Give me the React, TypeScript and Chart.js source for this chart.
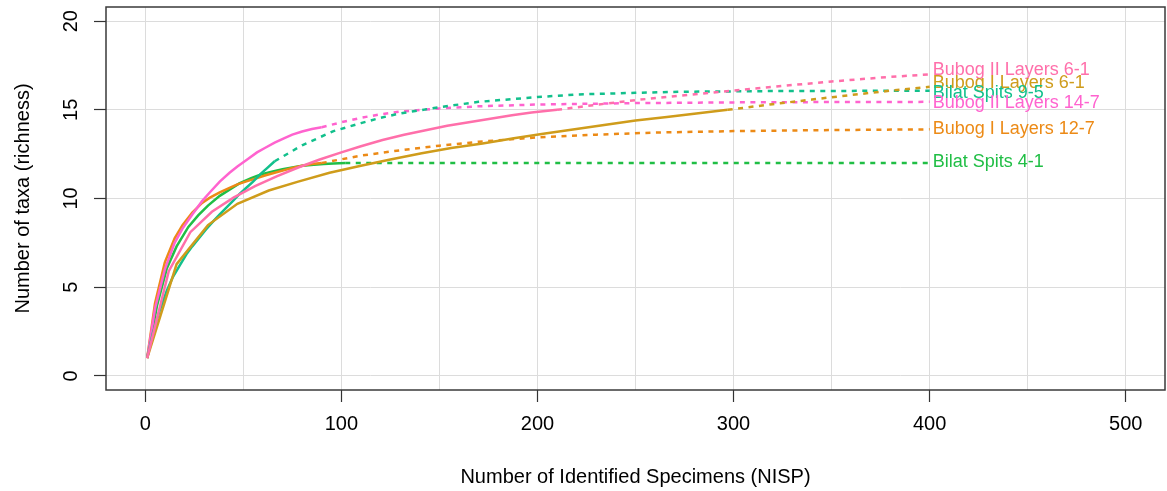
import React, { useEffect, useRef } from "react";
import { Chart, registerables } from "chart.js";

Chart.register(...registerables);

// ---- axis ticks ----
const xTickValues = [0, 50, 100, 150, 200, 250, 300, 350, 400, 450, 500];
const yTickValues = [0, 5, 10, 15, 20];

// ---- series names / colours ----
const seriesNames = [
  "Bubog II Layers 6-1",
  "Bubog I Layers 6-1",
  "Bilat Spits 9-5",
  "Bubog II Layers 14-7",
  "Bubog I Layers 12-7",
  "Bilat Spits 4-1",
];
const seriesColors = ["#FF6FAA", "#CF9C1B", "#12C08C", "#FF63CF", "#EC8A16", "#20BE45"];

// label anchor values (y at x = 400)
const labelValues = [17.24, 16.52, 15.92, 15.38, 13.92, 12.06];
const labelAtX = 400;

// ---- Bubog II Layers 6-1 ----
const bubogII61InterpX = [1, 12, 23, 34, 45, 56, 67, 78, 89, 100, 110, 121, 132, 143, 154, 165, 176, 187, 197, 210];
const bubogII61InterpY = [1, 5.9, 8.1, 9.25, 10.05, 10.7, 11.25, 11.75, 12.2, 12.6, 12.95, 13.3, 13.6, 13.85, 14.1, 14.3, 14.5, 14.7, 14.85, 15.0];
const bubogII61ExtrapX = [210, 231, 250, 275, 300, 325, 350, 375, 400];
const bubogII61ExtrapY = [15.0, 15.3, 15.55, 15.82, 16.08, 16.35, 16.6, 16.82, 17.0];

// ---- Bubog I Layers 6-1 ----
const bubogI61InterpX = [1, 16, 32, 47, 63, 78, 94, 110, 125, 141, 156, 172, 188, 203, 219, 234, 250, 266, 281, 297];
const bubogI61InterpY = [1, 6.3, 8.5, 9.7, 10.45, 10.95, 11.45, 11.85, 12.2, 12.55, 12.85, 13.1, 13.4, 13.65, 13.9, 14.15, 14.4, 14.6, 14.8, 15.0];
const bubogI61ExtrapX = [297, 320, 340, 360, 380, 400];
const bubogI61ExtrapY = [15.0, 15.32, 15.58, 15.84, 16.08, 16.3];

// ---- Bilat Spits 9-5 ----
const bilat95InterpX = [1, 4, 7, 11, 14, 18, 21, 24, 28, 31, 35, 38, 42, 45, 48, 52, 55, 59, 62, 66];
const bilat95InterpY = [1, 2.45, 3.55, 4.8, 5.55, 6.3, 6.85, 7.3, 7.85, 8.25, 8.75, 9.1, 9.55, 9.9, 10.25, 10.65, 10.95, 11.4, 11.7, 12.1];
const bilat95ExtrapX = [66, 80, 96, 110, 120, 130, 150, 170, 200, 221, 250, 272, 323, 400];
const bilat95ExtrapY = [12.1, 13.0, 13.8, 14.25, 14.55, 14.8, 15.15, 15.45, 15.72, 15.87, 15.96, 16.02, 16.06, 16.08];

// ---- Bubog II Layers 14-7 ----
const bubogII147InterpX = [1, 5, 10, 15, 19, 24, 29, 33, 38, 43, 47, 52, 57, 61, 66, 71, 75, 80, 85, 90];
const bubogII147InterpY = [1, 3.8, 6.0, 7.5, 8.3, 9.1, 9.85, 10.35, 10.95, 11.45, 11.8, 12.2, 12.6, 12.85, 13.15, 13.4, 13.6, 13.78, 13.92, 14.02];
const bubogII147ExtrapX = [90, 100, 110, 120, 130, 150, 170, 200, 250, 300, 350, 400];
const bubogII147ExtrapY = [14.02, 14.3, 14.55, 14.75, 14.9, 15.08, 15.2, 15.3, 15.38, 15.42, 15.44, 15.45];

// ---- Bubog I Layers 12-7 ----
const bubogI127InterpX = [1, 5, 10, 15, 19, 24, 29, 33, 38, 43, 47, 52, 57, 61, 66, 71, 75, 80, 85, 90];
const bubogI127InterpY = [1, 4.1, 6.4, 7.75, 8.5, 9.2, 9.75, 10.05, 10.35, 10.6, 10.8, 10.98, 11.15, 11.3, 11.45, 11.6, 11.72, 11.85, 11.94, 12.0];
const bubogI127ExtrapX = [90, 110, 130, 150, 170, 200, 230, 260, 300, 350, 400];
const bubogI127ExtrapY = [12.0, 12.42, 12.72, 12.98, 13.2, 13.45, 13.6, 13.72, 13.8, 13.86, 13.9];

// ---- Bilat Spits 4-1 ----
const bilat41InterpX = [1, 6, 11, 16, 22, 27, 32, 38, 43, 48, 54, 59, 64, 70, 75, 80, 86, 91, 96, 102];
const bilat41InterpY = [1, 3.95, 6.05, 7.3, 8.4, 9.05, 9.6, 10.15, 10.5, 10.85, 11.15, 11.35, 11.5, 11.65, 11.75, 11.85, 11.9, 11.95, 11.98, 12.0];
const bilat41ExtrapX = [102, 150, 200, 250, 300, 350, 400];
const bilat41ExtrapY = [12, 12, 12, 12, 12, 12, 12];

const interpX = [bubogII61InterpX, bubogI61InterpX, bilat95InterpX, bubogII147InterpX, bubogI127InterpX, bilat41InterpX];
const interpY = [bubogII61InterpY, bubogI61InterpY, bilat95InterpY, bubogII147InterpY, bubogI127InterpY, bilat41InterpY];
const extrapX = [bubogII61ExtrapX, bubogI61ExtrapX, bilat95ExtrapX, bubogII147ExtrapX, bubogI127ExtrapX, bilat41ExtrapX];
const extrapY = [bubogII61ExtrapY, bubogI61ExtrapY, bilat95ExtrapY, bubogII147ExtrapY, bubogI127ExtrapY, bilat41ExtrapY];

const FONT = "'Liberation Sans', Arial, Helvetica, sans-serif";

const zip = (xs: number[], ys: number[]) => xs.map((x, i) => ({ x, y: ys[i] }));

const boxPlugin = {
  id: "boxPlugin",
  afterDraw(chart: any) {
    const { ctx, chartArea } = chart;
    ctx.save();
    ctx.strokeStyle = "#3a3a3a";
    ctx.lineWidth = 1.5;
    ctx.strokeRect(chartArea.left, chartArea.top, chartArea.right - chartArea.left, chartArea.bottom - chartArea.top);
    ctx.restore();
  },
};

const labelPlugin = {
  id: "labelPlugin",
  afterDatasetsDraw(chart: any) {
    const { ctx } = chart;
    const xs = chart.scales.x;
    const ys = chart.scales.y;
    ctx.save();
    ctx.font = `18px ${FONT}`;
    ctx.textAlign = "left";
    ctx.textBaseline = "middle";
    seriesNames.forEach((name, i) => {
      ctx.fillStyle = seriesColors[i];
      ctx.fillText(name, xs.getPixelForValue(labelAtX) + 3, ys.getPixelForValue(labelValues[i]));
    });
    ctx.restore();
  },
};

export default function App() {
  const ref = useRef<HTMLCanvasElement | null>(null);

  useEffect(() => {
    if (!ref.current) return;
    const datasets: any[] = [];
    seriesNames.forEach((name, i) => {
      datasets.push({
        label: name + " (interpolated)",
        data: zip(interpX[i], interpY[i]),
        borderColor: seriesColors[i],
        borderWidth: 2.5,
        pointRadius: 0,
        tension: 0,
        fill: false,
      });
      datasets.push({
        label: name + " (extrapolated)",
        data: zip(extrapX[i], extrapY[i]),
        borderColor: seriesColors[i],
        borderWidth: 2.5,
        borderDash: [5, 5.5],
        pointRadius: 0,
        tension: 0,
        fill: false,
      });
    });

    const chart = new Chart(ref.current, {
      type: "line",
      data: { datasets },
      options: {
        animation: false,
        responsive: false,
        events: [],
        layout: { padding: { top: 7, right: 2, left: 0, bottom: 0 } },
        plugins: {
          legend: { display: false },
          tooltip: { enabled: false },
        },
        scales: {
          x: {
            type: "linear",
            min: -20,
            max: 520,
            afterBuildTicks: (scale: any) => {
              scale.ticks = xTickValues.map((v) => ({ value: v }));
            },
            afterFit: (scale: any) => {
              scale.height = 101;
              scale.paddingLeft = 0;
              scale.paddingRight = 0;
            },
            border: { display: false },
            grid: {
              color: "#dcdcdc",
              lineWidth: 1,
              drawTicks: true,
              tickLength: 12,
              tickWidth: 1.2,
              tickColor: (c: any) => (c.tick && c.tick.value % 100 === 0 ? "#333333" : "rgba(0,0,0,0)"),
            },
            ticks: {
              autoSkip: false,
              maxRotation: 0,
              minRotation: 0,
              padding: 10,
              color: "#000000",
              font: { family: FONT, size: 20, lineHeight: 1.2 },
              callback: (v: any) => (Number(v) % 100 === 0 ? String(v) : ""),
            },
            title: {
              display: true,
              text: "Number of Identified Specimens (NISP)",
              color: "#000000",
              font: { family: FONT, size: 20, lineHeight: 1.2 },
              padding: { top: 0, bottom: 2 },
            },
          },
          y: {
            type: "linear",
            min: -0.8,
            max: 20.8,
            afterBuildTicks: (scale: any) => {
              scale.ticks = yTickValues.map((v) => ({ value: v }));
            },
            afterFit: (scale: any) => {
              scale.width = 106;
              scale.paddingTop = 0;
              scale.paddingBottom = 0;
            },
            border: { display: false },
            grid: {
              color: "#dcdcdc",
              lineWidth: 1,
              drawTicks: true,
              tickLength: 12,
              tickWidth: 1.2,
              tickColor: "#333333",
            },
            ticks: {
              autoSkip: false,
              minRotation: 90,
              maxRotation: 90,
              crossAlign: "center",
              padding: 11,
              color: "#000000",
              font: { family: FONT, size: 20, lineHeight: 1.2 },
              callback: (v: any) => String(v),
            },
            title: {
              display: true,
              text: "Number of taxa (richness)",
              color: "#000000",
              font: { family: FONT, size: 20, lineHeight: 1.2 },
              padding: { top: 11, bottom: 0 },
            },
          },
        },
      },
      plugins: [boxPlugin, labelPlugin],
    });
    return () => chart.destroy();
  }, []);

  return (
    <div style={{ position: "absolute", left: 0, top: 0, width: 1167, height: 491, background: "#ffffff" }}>
      <canvas ref={ref} width={1167} height={491} style={{ display: "block" }} />
    </div>
  );
}
